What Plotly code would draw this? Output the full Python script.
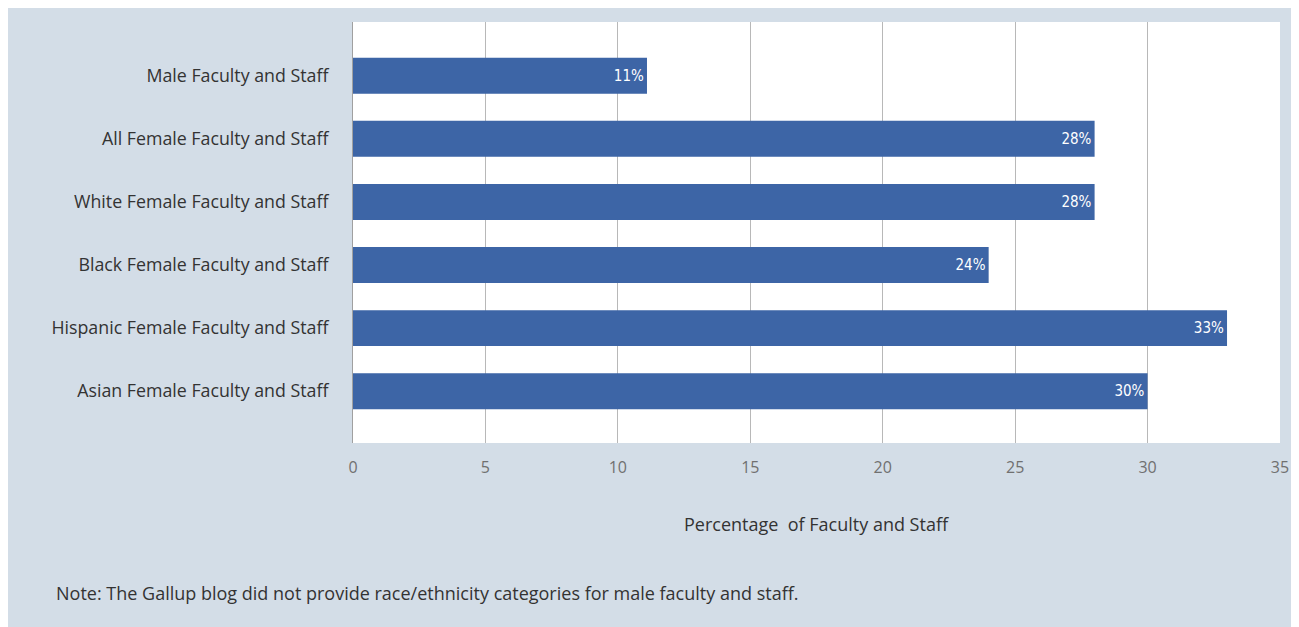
import plotly.graph_objects as go

categories = [
    "Male Faculty and Staff",
    "All Female Faculty and Staff",
    "White Female Faculty and Staff",
    "Black Female Faculty and Staff",
    "Hispanic Female Faculty and Staff",
    "Asian Female Faculty and Staff",
]
values = [11.1, 28, 28, 24, 33, 30]
labels = ["11%", "28%", "28%", "24%", "33%", "30%"]
x_ticks = [0, 5, 10, 15, 20, 25, 30, 35]

W, H = 1299, 627
OFF = 8  # page offset of the figure
L, R, T, B = 353 - OFF, 1280 - OFF, 22 - OFF, 443 - OFF
pw, ph = R - L, B - T

def px_x(p):
    return (p - OFF - L) / pw

def px_y(p):
    return (B - (p - OFF)) / ph

fig = go.Figure()
fig.add_trace(go.Bar(
    y=categories, x=values, orientation="h",
    marker=dict(color="#3d65a6", line=dict(width=0)),
    width=0.57,
    text=labels, textposition="inside", insidetextanchor="end",
    textfont=dict(family="DejaVu Sans Condensed, Liberation Sans Narrow, Roboto, sans-serif", size=15, color="white"),
    textangle=0, cliponaxis=False, hoverinfo="skip",
))

fig.update_layout(
    width=W, height=H,
    margin=dict(l=L, r=W - R, t=T, b=H - B, pad=0),
    paper_bgcolor="#d3dde7", plot_bgcolor="white",
    showlegend=False,
    font=dict(family="Open Sans, Noto Sans, sans-serif", color="#333333"),
    annotations=[
        dict(text="Percentage  of Faculty and Staff", xref="paper", yref="paper",
             x=0.5, y=px_y(524), xanchor="center", yanchor="middle", showarrow=False,
             font=dict(size=18, color="#333333")),
        dict(text="Note: The Gallup blog did not provide race/ethnicity categories for male faculty and staff.",
             xref="paper", yref="paper", x=px_x(54), y=px_y(593), xanchor="left", yanchor="middle",
             showarrow=False, font=dict(size=18, color="#333333")),
    ],
)
fig.update_xaxes(range=[0, 35], tickvals=x_ticks, showgrid=True, gridcolor="#b8b8b8", gridwidth=1,
                 zeroline=False, showline=False, ticks="", ticklabelstandoff=13,
                 tickfont=dict(size=16, color="#707070"), fixedrange=True)
fig.update_yaxes(categoryorder="array", categoryarray=categories, range=[5.82, -0.85],
                 showline=True, linecolor="#a0a0a0", linewidth=1, showgrid=False, ticks="",
                 ticklabelstandoff=20, tickfont=dict(size=17.8, color="#333333"), fixedrange=True)

fig.write_html("out.html")
